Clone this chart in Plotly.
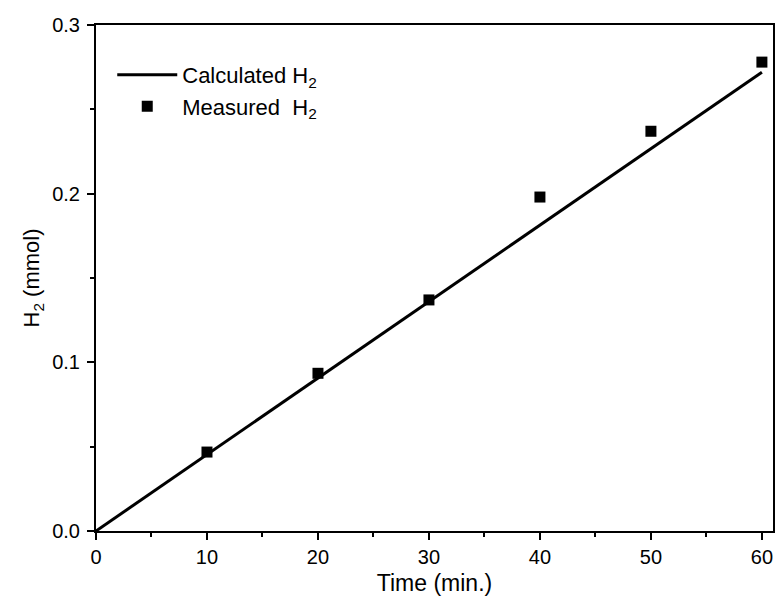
import plotly.graph_objects as go

calc_time = [0, 60]
calc_h2 = [0.0, 0.272]
meas_time = [10, 20, 30, 40, 50, 60]
meas_h2 = [0.0468, 0.0935, 0.137, 0.198, 0.237, 0.278]

FONT = "Liberation Sans, Arial, sans-serif"

fig = go.Figure()
fig.add_trace(go.Scatter(x=calc_time, y=calc_h2, mode="lines",
                         line=dict(color="black", width=3),
                         name="Calculated H<sub>2</sub>"))
fig.add_trace(go.Scatter(x=meas_time, y=meas_h2, mode="markers",
                         marker=dict(symbol="square", color="black", size=11),
                         name="Measured  H<sub>2</sub>"))

axis_common = dict(showgrid=False, zeroline=False, showline=True, linecolor="black",
                   linewidth=2, mirror=True, ticks="outside", ticklen=7, tickwidth=2,
                   tickcolor="black", tickfont=dict(family=FONT, size=20, color="black"),
                   minor=dict(ticks="outside", ticklen=4, tickwidth=2, tickcolor="black"))

fig.update_xaxes(range=[0, 61], tickvals=[0, 10, 20, 30, 40, 50, 60],
                 minor_tickvals=[5, 15, 25, 35, 45, 55],
                 title=dict(text="Time (min.)", font=dict(family=FONT, size=23, color="black"), standoff=8),
                 **axis_common)
fig.update_yaxes(range=[0, 0.3], tickvals=[0, 0.1, 0.2, 0.3], ticktext=["0.0", "0.1", "0.2", "0.3"],
                 minor_tickvals=[0.05, 0.15, 0.25], ticklabelstandoff=3,
                 title=dict(text="H<sub>2</sub> (mmol)", font=dict(family=FONT, size=22, color="black"), standoff=6),
                 **axis_common)

fig.update_layout(width=779, height=612, margin=dict(l=96, r=4, t=25, b=81),
                  paper_bgcolor="white", plot_bgcolor="white",
                  font=dict(family=FONT, color="black"),
                  legend=dict(x=0.024, y=0.943, xanchor="left", yanchor="top",
                              font=dict(family=FONT, size=22, color="black"),
                              bgcolor="rgba(0,0,0,0)", tracegroupgap=0, itemwidth=60))

fig.write_html("out.html")
